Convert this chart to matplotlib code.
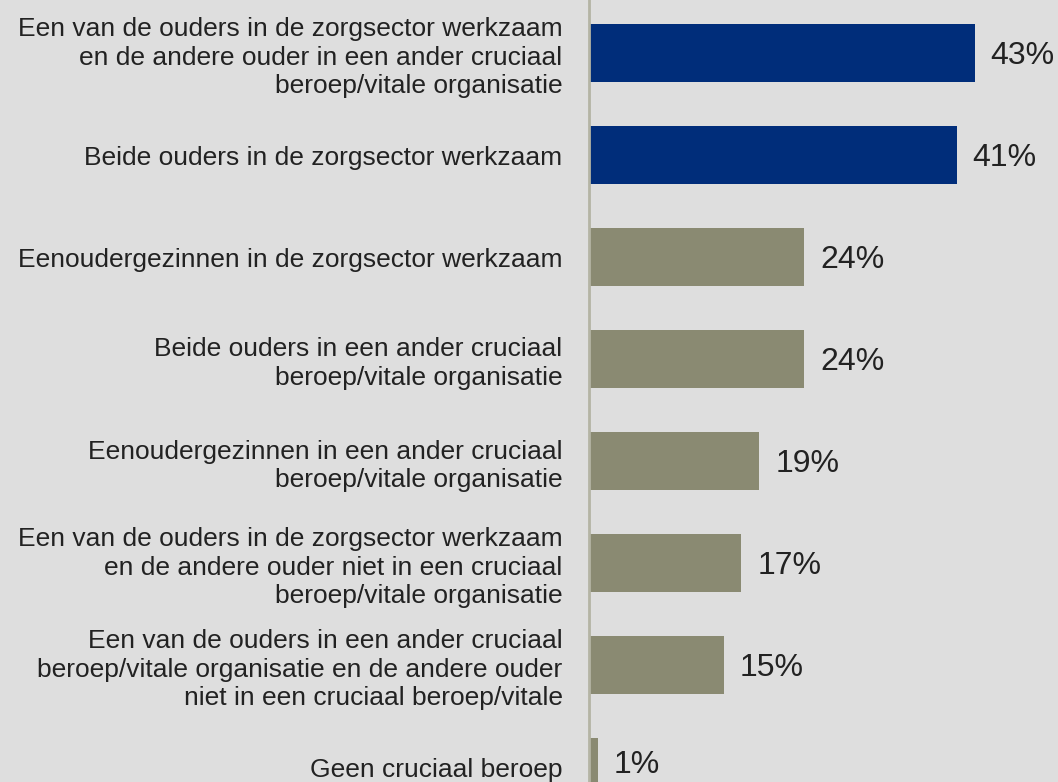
import matplotlib.pyplot as plt

plt.rcParams['font.family'] = ['Liberation Sans', 'DejaVu Sans']

labels = [
    "Een van de ouders in de zorgsector werkzaam\nen de andere ouder in een ander cruciaal\nberoep/vitale organisatie",
    "Beide ouders in de zorgsector werkzaam",
    "Eenoudergezinnen in de zorgsector werkzaam",
    "Beide ouders in een ander cruciaal\nberoep/vitale organisatie",
    "Eenoudergezinnen in een ander cruciaal\nberoep/vitale organisatie",
    "Een van de ouders in de zorgsector werkzaam\nen de andere ouder niet in een cruciaal\nberoep/vitale organisatie",
    "Een van de ouders in een ander cruciaal\nberoep/vitale organisatie en de andere ouder\nniet in een cruciaal beroep/vitale",
    "Geen cruciaal beroep",
]
values = [43, 41, 24, 24, 19, 17, 15, 1]
highlight = [True, True, False, False, False, False, False, False]

bg = '#dedede'
navy = '#002d7a'
olive = '#8a8a72'

fig = plt.figure(figsize=(10.58, 7.82), dpi=100, facecolor=bg)
ax = fig.add_axes([589 / 1058, 0, 1 - 589 / 1058, 1])
ax.set_facecolor(bg)

pos = list(range(len(values)))
colors = [navy if h else olive for h in highlight]
bars = ax.barh(pos, values, height=0.57, color=colors)

for i, (b, v) in enumerate(zip(bars, values)):
    dy = -2.5 if i < len(values) - 1 else 1.5
    ax.annotate(f"{v}%", (b.get_width(), b.get_y() + b.get_height() / 2),
                xytext=(11.5, dy), textcoords='offset points',
                va='center', ha='left', fontsize=23, color='#222222')

ax.set_xlim(0, 468 / 8.95)
ax.set_ylim(7 + 15 / 102, -53 / 102)
ax.set_yticks(pos)
ax.set_yticklabels(labels, fontsize=19, color='#222222', linespacing=1.24)
ax.tick_params(axis='y', length=0, pad=19)
ax.set_xticks([])
for s in ['top', 'right', 'bottom']:
    ax.spines[s].set_visible(False)
ax.spines['left'].set_color('#b4b4a4')
ax.spines['left'].set_linewidth(2)

fig.savefig('out.png', dpi=100, facecolor=bg)
